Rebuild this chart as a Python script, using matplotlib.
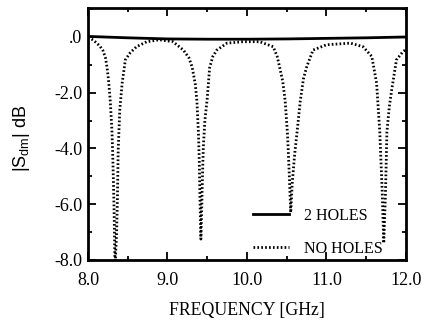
import numpy as np
import matplotlib
matplotlib.use('Agg')
import matplotlib.pyplot as plt
from matplotlib.ticker import MultipleLocator

plt.rcParams['font.family'] = ['Liberation Serif', 'DejaVu Serif']
plt.rcParams['mathtext.fontset'] = 'custom'
plt.rcParams['mathtext.rm'] = 'Liberation Sans'
plt.rcParams['mathtext.it'] = 'Liberation Sans'

# |S_dm| without holes (dotted)
freq_no = [8.00, 8.03, 8.07, 8.11, 8.15, 8.19, 8.22, 8.24, 8.26, 8.28, 8.30, 8.31,
           8.32, 8.33, 8.34, 8.36, 8.37, 8.38, 8.40, 8.43, 8.47, 8.53, 8.61, 8.74,
           8.90, 9.07, 9.20, 9.27, 9.31, 9.35, 9.37, 9.39, 9.40, 9.41, 9.42, 9.43,
           9.44, 9.45, 9.47, 9.50, 9.53, 9.57, 9.62, 9.75, 9.95, 10.16, 10.33, 10.38,
           10.41, 10.45, 10.48, 10.51, 10.53, 10.55, 10.57, 10.60, 10.63, 10.67, 10.71,
           10.75, 10.83, 11.00, 11.30, 11.46, 11.57, 11.63, 11.67, 11.70, 11.72, 11.74,
           11.76, 11.79, 11.82, 11.88, 11.96, 12.00]
s_no = [-0.02, -0.05, -0.12, -0.22, -0.33, -0.50, -0.75, -1.10, -1.60, -2.30, -3.30, -4.10,
        -5.20, -6.50, -8.30, -7.00, -5.80, -4.05, -2.60, -1.65, -0.82, -0.57, -0.35, -0.17,
        -0.10, -0.17, -0.47, -0.75, -1.08, -1.70, -2.30, -3.50, -4.50, -6.00, -7.25, -6.20,
        -5.00, -4.00, -3.00, -2.20, -1.10, -0.70, -0.47, -0.22, -0.17, -0.17, -0.35, -0.70,
        -1.08, -1.60, -2.30, -3.50, -4.80, -6.30, -5.20, -4.20, -3.40, -2.30, -1.50,
        -1.08, -0.47, -0.28, -0.22, -0.35, -0.70, -1.65, -3.40, -5.50, -7.40, -5.80,
        -3.40, -2.50, -1.90, -0.82, -0.53, -0.45]

# |S_dm| with 2 holes (solid)
freq_2h = [8.0, 8.5, 9.0, 9.5, 10.0, 10.5, 11.0, 11.5, 12.0]
s_2h = [0.02, -0.03, -0.07, -0.08, -0.08, -0.07, -0.05, -0.03, 0.0]

xticks = [8.0, 9.0, 10.0, 11.0, 12.0]
yticks = [0.0, -2.0, -4.0, -6.0, -8.0]
ytick_labels = ['.0', '-2.0', '-4.0', '-6.0', '-8.0']

fig = plt.figure(figsize=(4.28, 3.26), dpi=100)
ax = fig.add_axes([0.2056, 0.2025, 0.743, 0.773])

ax.plot(freq_2h, s_2h, color='black', lw=2.0, label='2 HOLES')
ax.plot(freq_no, s_no, color='black', lw=2.0, linestyle=(0, (0.6, 0.8)),
        label='NO HOLES')

ax.set_xlim(8.0, 12.0)
ax.set_ylim(-8.0, 1.04)
ax.set_xticks(xticks)
ax.set_xticklabels(['%.1f' % v for v in xticks])
ax.set_yticks(yticks)
ax.set_yticklabels(ytick_labels)
ax.xaxis.set_minor_locator(MultipleLocator(0.5))
ax.yaxis.set_minor_locator(MultipleLocator(1.0))
ax.tick_params(which='both', direction='in', top=True, right=True,
               labelsize=13, width=1.3)
ax.tick_params(which='major', length=6)
ax.tick_params(axis='x', which='major', pad=9)
ax.tick_params(axis='y', which='major', pad=4)
ax.tick_params(which='minor', length=3)
for sp in ax.spines.values():
    sp.set_linewidth(2.0)

ax.set_xlabel('FREQUENCY [GHz]', fontsize=12.8)
ax.xaxis.set_label_coords(0.5, -0.165)
ax.set_ylabel(r'|S$_{\mathrm{dm}}$| dB', fontsize=13, family='Liberation Sans')
ax.yaxis.set_label_coords(-0.176, 0.484)

ax.legend(loc='lower left', bbox_to_anchor=(0.51, 0.0), frameon=False,
          fontsize=11.5, handlelength=2.2, handletextpad=1.0, labelspacing=1.05,
          borderaxespad=0.2, borderpad=0.0)

fig.savefig('out.png', dpi=100)
